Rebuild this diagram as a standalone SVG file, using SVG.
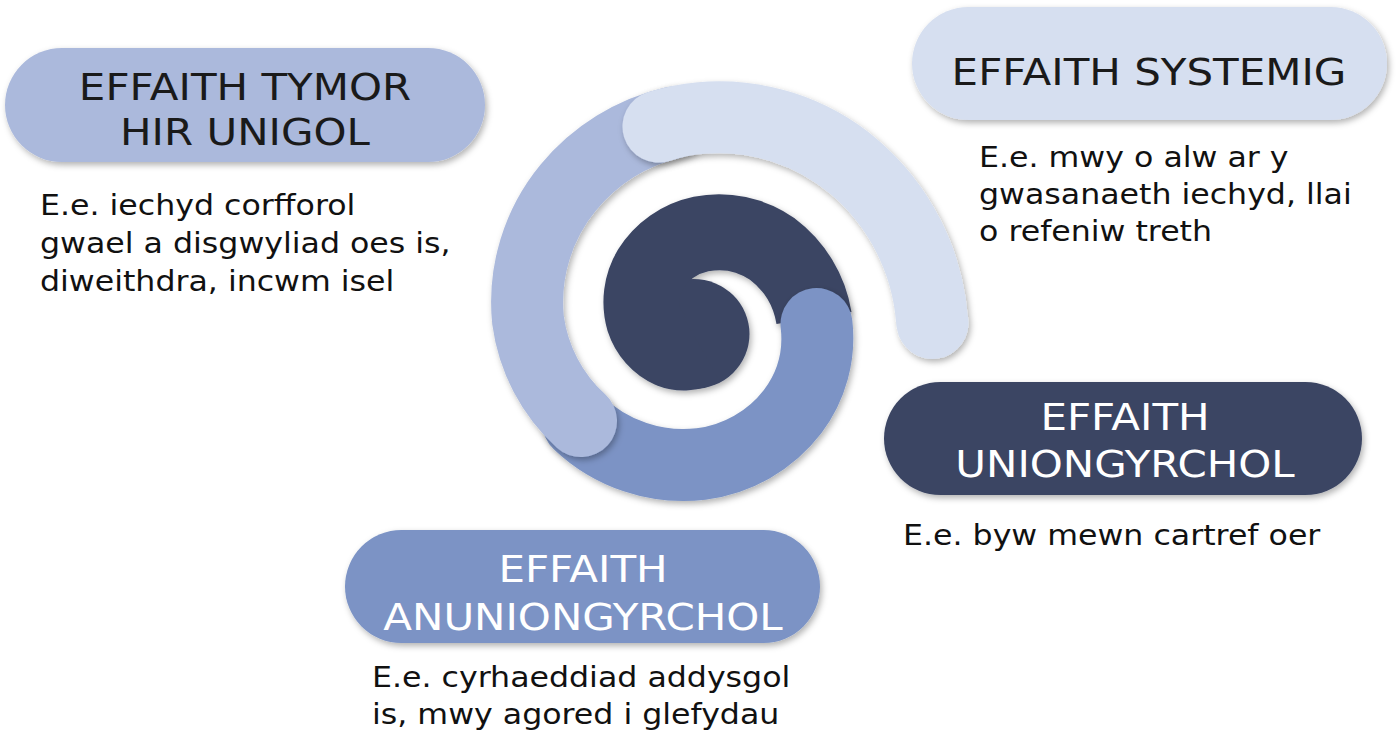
<svg xmlns="http://www.w3.org/2000/svg" width="1397" height="738" viewBox="0 0 1397 738">
<defs>
<filter id="sh" filterUnits="userSpaceOnUse" x="0" y="0" width="1397" height="738">
<feDropShadow dx="2" dy="3" stdDeviation="3" flood-color="#000" flood-opacity="0.3"/>
</filter>
<style>
.title{font-family:"DejaVu Sans",Verdana,sans-serif;font-size:36.5px;text-anchor:middle}
.body{font-family:"DejaVu Sans",Verdana,sans-serif;font-size:27.5px;fill:#111}
.dark{fill:#1a1a1a}
.light{fill:#ffffff}
.seg{fill:none;stroke-width:72;stroke-linecap:round;filter:url(#sh)}
</style>
</defs>
<rect width="1397" height="738" fill="#ffffff"/>

<g id="spiral">
<g id="seg-navy" filter="url(#sh)">
<ellipse cx="693.5" cy="334" rx="56" ry="55" fill="#3b4563"/>
<path d="M 814 318 A 108 108 0 0 0 772.1 248.9 A 93 93 0 0 0 701 234 A 79 79 0 0 0 650.4 269.4 A 64 64 0 0 0 644 320 A 50 50 0 0 0 670.9 350.1 A 35 35 0 0 0 701 348" fill="none" stroke="#3b4563" stroke-width="76" stroke-linecap="butt"/>
</g>
<path id="seg-bottom" class="seg" stroke="#7b93c5" d="M 816.5 324 A 122 122 0 0 1 792.6 411.6 A 137 137 0 0 1 701 464 A 152 152 0 0 1 578.4 422.9"/>
<path id="seg-left" class="seg" stroke="#abb9dc" d="M 581 421 A 166 166 0 0 1 528 320 A 180 180 0 0 1 568.4 187.4 A 193 193 0 0 1 673.2 122.5"/>
<path id="seg-top" class="seg" stroke="#d6dff0" d="M 658.5 126.6 A 200 200 0 0 1 701 118 A 209 209 0 0 1 854.1 166.9 A 224 224 0 0 1 932 320 A 231 231 0 0 1 932.5 323"/>
</g>

<g id="node-tymor">
<rect x="5" y="48" width="480" height="114" rx="57" fill="#abb9dc" filter="url(#sh)"/>
<text class="title dark" transform="translate(245 100) scale(1.15 1)"><tspan x="0" y="0">EFFAITH TYMOR</tspan><tspan x="0" y="45">HIR UNIGOL</tspan></text>
<text class="body" transform="translate(40 215) scale(1.15 1)"><tspan x="0" y="0">E.e. iechyd corfforol</tspan><tspan x="0" y="38">gwael a disgwyliad oes is,</tspan><tspan x="0" y="76">diweithdra, incwm isel</tspan></text>
</g>

<g id="node-systemig">
<rect x="912" y="7" width="475" height="113" rx="56.5" fill="#d6dff0" filter="url(#sh)"/>
<text class="title dark" transform="translate(1149 85) scale(1.15 1)">EFFAITH SYSTEMIG</text>
<text class="body" transform="translate(979 167) scale(1.15 1)"><tspan x="0" y="0">E.e. mwy o alw ar y</tspan><tspan x="0" y="37">gwasanaeth iechyd, llai</tspan><tspan x="0" y="74">o refeniw treth</tspan></text>
</g>

<g id="node-uniongyrchol">
<rect x="884" y="382" width="478" height="113" rx="56.5" fill="#3b4563" filter="url(#sh)"/>
<text class="title light" transform="translate(1125 430) scale(1.15 1)"><tspan x="0" y="0">EFFAITH</tspan><tspan x="0" y="46.7">UNIONGYRCHOL</tspan></text>
<text class="body" transform="translate(903 545) scale(1.15 1)">E.e. byw mewn cartref oer</text>
</g>

<g id="node-anuniongyrchol">
<rect x="345" y="530" width="475" height="113" rx="56.5" fill="#7b93c5" filter="url(#sh)"/>
<text class="title light" transform="translate(583 582) scale(1.15 1)"><tspan x="0" y="0">EFFAITH</tspan><tspan x="0" y="48">ANUNIONGYRCHOL</tspan></text>
<text class="body" transform="translate(372 687) scale(1.15 1)"><tspan x="0" y="0">E.e. cyrhaeddiad addysgol</tspan><tspan x="0" y="37">is, mwy agored i glefydau</tspan></text>
</g>

<g id="connectors"></g>
</svg>
